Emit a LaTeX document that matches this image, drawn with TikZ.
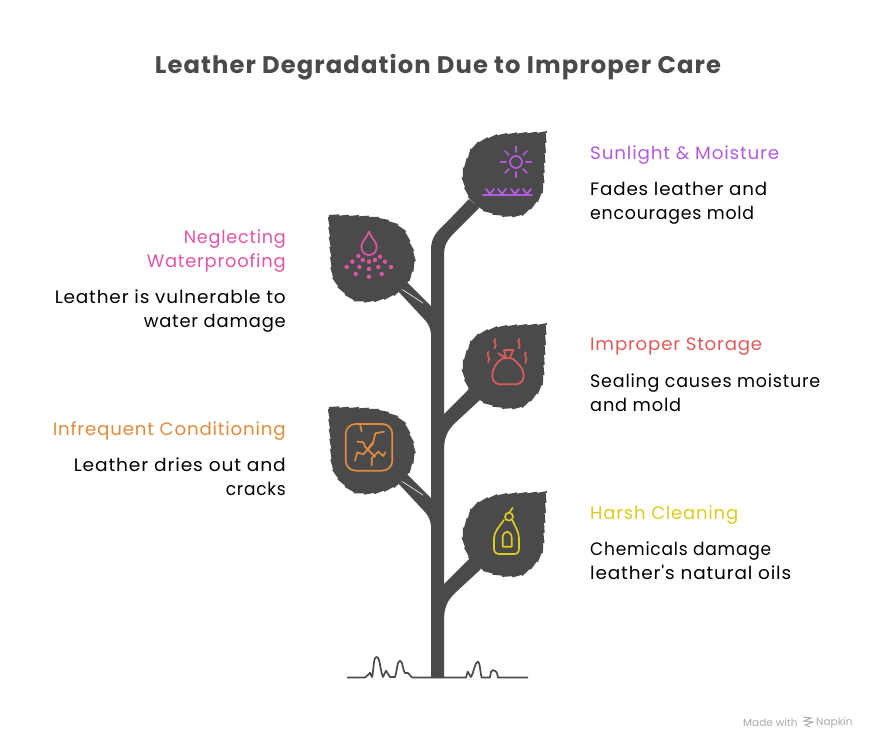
\documentclass[tikz,border=0pt]{standalone}
\usepackage{fontspec}
\usepackage{graphicx}
\setmainfont{Poppins}[LetterSpace=4.5,Ligatures=TeXOff]
\newfontfamily\plainfont{Poppins}
\usetikzlibrary{decorations.pathmorphing}
\definecolor{dark}{HTML}{4A4A4A}
\definecolor{cpurple}{HTML}{B35CDF}
\definecolor{cpink}{HTML}{E055A5}
\definecolor{cred}{HTML}{E05A5A}
\definecolor{corange}{HTML}{E08C3C}
\definecolor{cyellow}{HTML}{DCCB20}
\definecolor{cgray}{HTML}{ABABAB}
\newcommand{\fitline}[2]{\resizebox{#1pt}{\height}{#2}}
\tikzset{
  x=1pt,y=-1pt,
  leafshape/.pic={
    \fill[dark,decorate,decoration={saw,segment length=10pt,amplitude=1.3pt}]
      (0,0) .. controls (15,1) and (35,1) .. (47,3)
      .. controls (60,6) and (69,10) .. (73,16)
      .. controls (81,27) and (85,38) .. (84,47)
      .. controls (83,60) and (77,70) .. (67,77)
      .. controls (56,84) and (42,87) .. (29,85)
      .. controls (16,80) and (7,69) .. (5,60)
      .. controls (2,45) and (1,20) .. (0,0) -- cycle;
  },
  head/.style={inner sep=0pt,font=\fontsize{18}{24}\selectfont},
  body/.style={inner sep=0pt,text=black,font=\fontsize{18}{24}\selectfont},
  icon/.style={line width=1.7pt,line cap=round,line join=round},
  zoomed/.style={x=0.3333pt,y=-0.3333pt}
}
\begin{document}
\begin{tikzpicture}
\useasboundingbox[fill=white] (0,0) rectangle (876,750);
% title
\node[text=dark,font=\fontsize{24}{28}\selectfont\bfseries] (title) at (438,67) {\fitline{566}{Leather Degradation Due to Improper Care}};
% stem
\fill[dark] (431,678) -- (431,250) .. controls (431,238) and (436,232) .. (447,222)
  -- (469,199) -- (479,208) -- (455,232) .. controls (446,241) and (444,246) .. (444,256) -- (444,678) -- cycle;
% right branches
\fill[dark] (470,388) -- (444,414) -- (444,446) .. controls (445,436) and (448,430) .. (455,423) -- (481,399) -- cycle;
\fill[dark] (470,558) -- (444,584) -- (444,616) .. controls (445,606) and (448,600) .. (455,593) -- (481,569) -- cycle;
% left branches
\fill[dark] (407,282) -- (431,306) -- (431,333) .. controls (430,327) and (428,323) .. (424,319) -- (398,291) -- cycle;
\fill[dark] (407,474) -- (431,498) -- (431,525) .. controls (430,519) and (428,515) .. (424,511) -- (398,483) -- cycle;
\draw[white,line width=0.6pt] (400,288) -- (423,303);
\draw[white,line width=0.6pt] (400,480) -- (423,495);
% leaves
\pic[xscale=-1] at (547,131) {leafshape};
\pic at (329,215) {leafshape};
\pic[xscale=-1] at (547,323) {leafshape};
\pic at (329,407) {leafshape};
\pic[xscale=-1] at (547,491) {leafshape};
% sun
\begin{scope}[icon,cpurple]
  \draw (516,162) circle[radius=6pt];
  \foreach \a in {0,45,...,315} \draw (516,162) ++(\a:10pt) -- ++(\a:5.5pt);
  \draw[line width=1.8pt] (483,195) -- (532,195);
  \foreach \p in {490,502,515,527} \draw[line width=1.8pt] (\p-4,189) -- (\p,194) -- (\p+4,189);
\end{scope}
% drop
\begin{scope}[shift={(320,205)},zoomed,icon,cpink]
  \draw (147,80) .. controls (140,100) and (124,110) .. (124,125)
    .. controls (124,142) and (135,150) .. (147,150)
    .. controls (159,150) and (170,142) .. (170,125)
    .. controls (170,110) and (154,100) .. (147,80) -- cycle;
  \foreach \a/\b in {115/153,180/155,97/170,128/165,147/170,165/165,195/170,80/186,118/186,147/192,175/186,213/186,107/207,185/207,147/215}
    \fill (\a,\b) circle[radius=2.2pt];
\end{scope}
% bag
\begin{scope}[shift={(430,315)},zoomed,icon,cred]
  \draw (218,130) .. controls (200,140) and (187,160) .. (187,183)
    .. controls (187,200) and (198,208) .. (212,208) -- (255,208)
    .. controls (272,208) and (281,198) .. (281,180)
    .. controls (281,160) and (262,140) .. (245,130) -- cycle;
  \draw (228,128) -- (222,105) -- (250,105) -- (240,128);
  \draw (205,115) -- (226,128);
  \draw (196,72) .. controls (186,80) and (204,88) .. (194,100);
  \draw (176,110) .. controls (166,118) and (184,128) .. (174,142);
  \draw (268,72) .. controls (258,80) and (276,88) .. (266,100);
  \draw (288,112) .. controls (278,120) and (296,130) .. (286,144);
\end{scope}
% cracks
\begin{scope}[shift={(320,395)},zoomed,icon,corange]
  \draw[rounded corners=10pt] (77,87) rectangle (217,227);
  \draw (120,87) -- (125,110);
  \draw (192,110) -- (166,115) -- (160,140) -- (145,160);
  \draw (112,140) -- (130,142) -- (135,155) -- (165,185);
  \draw (105,197) -- (112,172) -- (130,178) -- (160,145);
  \draw (155,212) -- (155,190) -- (175,170) -- (190,183) -- (196,172);
\end{scope}
% bottle
\begin{scope}[shift={(430,485)},zoomed,icon,cyellow]
  \draw (222,105) .. controls (208,125) and (192,140) .. (192,160) -- (192,190)
    .. controls (192,202) and (198,207) .. (208,207) -- (252,207)
    .. controls (262,207) and (267,202) .. (267,190) -- (267,160)
    .. controls (267,140) and (255,125) .. (248,107);
  \draw (237,95) circle[radius=4pt];
  \draw (238,83) -- (248,68);
  \draw (218,185) -- (245,185) -- (245,158) .. controls (245,148) and (238,140) .. (232,140)
    .. controls (225,140) and (218,148) .. (218,158) -- cycle;
\end{scope}
% ground
\draw[dark,line width=1.7pt,line join=round] (347,677.5) -- (365,677.5)
  .. controls (367,676) and (369,674) .. (370,672.7) -- (372,677)
  .. controls (374,670) and (373,657) .. (376.7,657)
  .. controls (380,657) and (380,670) .. (383,677) -- (386,670.7) -- (390,677) -- (395,677)
  .. controls (397,672) and (397,660.7) .. (400,660.7)
  .. controls (403,660.7) and (403,672) .. (405,673) -- (408,673) -- (412,677.5) -- (466,677.5)
  -- (467.7,671.7) -- (471,677)
  .. controls (474,672) and (475,661.7) .. (478,661.7)
  .. controls (480,661.7) and (480,672) .. (481.7,677.5) -- (490,677.5)
  .. controls (491,672) and (491,670) .. (493,670)
  .. controls (496,670) and (497,672) .. (498,677.5) -- (528,677.5);
% labels right
\node[head,text=cpurple,anchor=west] (h1) at (590,155) {\fitline{189}{Sunlight \& Moisture}};
\node[body,anchor=north west,align=left] (b1) at (590,182) {\fitline{177}{Fades leather and}\\\fitline{164}{encourages mold}};
\node[head,text=cred,anchor=west] (h2) at (590,347) {\fitline{172}{Improper Storage}};
\node[body,anchor=north west,align=left] (b2) at (590,374) {\fitline{230}{Sealing causes moisture}\\\fitline{91}{and mold}};
\node[head,text=cyellow,anchor=west] (h3) at (590,515) {\fitline{148}{Harsh Cleaning}};
\node[body,anchor=north west,align=left] (b3) at (590,542) {\fitline{181}{Chemicals damage}\\\fitline{201}{leather's natural oils}};
% labels left
\node[head,text=cpink,anchor=north east,align=right] (h4) at (286,230) {\fitline{102}{Neglecting}\\\fitline{139}{Waterproofing}};
\node[body,anchor=north east,align=right] (b4) at (286,290) {\fitline{231}{Leather is vulnerable to}\\\fitline{142}{water damage}};
\node[head,text=corange,anchor=east] (h5) at (286,431) {\fitline{233}{Infrequent Conditioning}};
\node[body,anchor=north east,align=right] (b5) at (286,458) {\fitline{212}{Leather dries out and}\\\fitline{60}{cracks}};
% footer
\node[text=cgray,anchor=west,inner sep=0pt,font=\plainfont\fontsize{10.5}{13}\selectfont] (made) at (743,722.5) {Made with};
\node[text=cgray,anchor=west,inner sep=0pt,font=\plainfont\fontsize{10.5}{13}\selectfont] (napkin) at (816,722.5) {Napkin};
\draw[cgray,line width=1pt] (803,717) -- (811,718) -- (804,721) -- (813,722) -- (805,725) -- (810,727);
\end{tikzpicture}
\end{document}
